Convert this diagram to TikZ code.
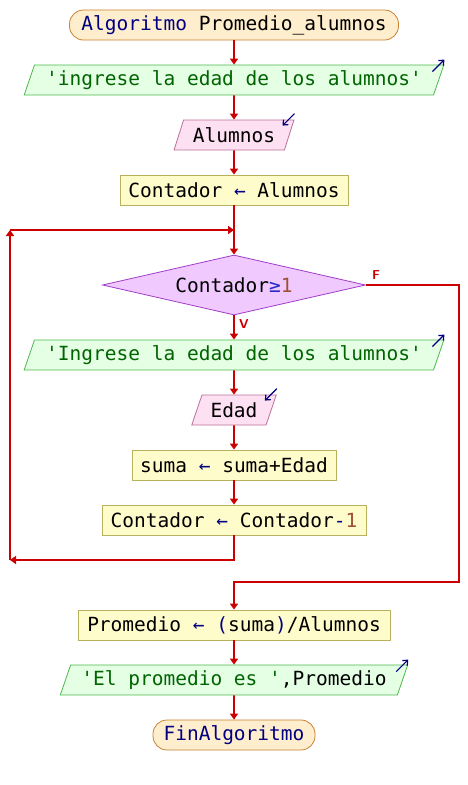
\documentclass[tikz,border=0pt]{standalone}
\usepackage{fontspec}
\setmonofont{DejaVu Sans Mono}
\usetikzlibrary{shapes,arrows.meta}

\definecolor{kwblue}{RGB}{0,0,128}
\definecolor{strgreen}{RGB}{0,100,0}
\definecolor{numbrown}{RGB}{160,80,50}
\definecolor{opblue}{RGB}{40,40,200}
\definecolor{flowred}{RGB}{204,0,0}
\definecolor{condfill}{RGB}{240,202,255}
\definecolor{conddraw}{RGB}{160,60,200}
\definecolor{termfill}{RGB}{255,238,205}
\definecolor{termdraw}{RGB}{200,130,50}

\begin{document}
\begin{tikzpicture}[x=1pt, y=-1pt, node distance=55pt, font=\ttfamily\fontsize{19.5}{21}\selectfont]
        % Styles
        \tikzstyle{terminal} = [rectangle, draw=termdraw, fill=termfill, rounded corners=14pt, minimum height=30pt, inner xsep=3pt, inner ysep=2pt, line width=0.8pt]
        \tikzstyle{outbox} = [trapezium, trapezium left angle=67, trapezium right angle=113, trapezium stretches=true, draw=green!60!black!70, fill=green!10, minimum height=30pt, inner xsep=2pt, inner ysep=2pt, line width=0.8pt]
        \tikzstyle{inbox} = [trapezium, trapezium left angle=67, trapezium right angle=113, trapezium stretches=true, draw=magenta!60!black!70, fill=magenta!12, minimum height=30pt, inner xsep=2pt, inner ysep=2pt, line width=0.8pt]
        \tikzstyle{block} = [rectangle, draw=yellow!60!black!80, fill=yellow!20, minimum height=30pt, inner xsep=3pt, inner ysep=2pt, line width=0.8pt]
        \tikzstyle{decision} = [diamond, draw=conddraw, fill=condfill, aspect=4, inner sep=0pt, minimum width=263pt, minimum height=60pt, line width=0.8pt]
        \tikzstyle{line} = [draw=flowred, line width=1.6pt, -{Triangle[length=6pt,width=8pt]}]
        \tikzstyle{io} = [draw=kwblue, line width=1.2pt, -{Straight Barb[length=4pt,width=7pt]}]
        \tikzstyle{tag} = [text=flowred, font=\sffamily\bfseries\fontsize{13}{14}\selectfont]

        % Nodes
        \node [terminal, minimum width=329pt] (start) at (234,25) {\textcolor{kwblue}{Algoritmo} Promedio\_alumnos};
        \node [outbox, below of=start, minimum width=420pt] (out1) {\textcolor{strgreen}{'ingrese la edad de los alumnos'}};
        \node [inbox, below of=out1, minimum width=120pt] (alumnos) {Alumnos};
        \node [block, below of=alumnos, minimum width=228pt] (cont) {Contador \textcolor{kwblue}{←} Alumnos};
        \node [decision, below of=cont, node distance=95pt] (cond) {Contador\textcolor{opblue}{≥}\textcolor{numbrown}{1}};
        \node [outbox, below of=cond, node distance=70pt, minimum width=420pt] (out2) {\textcolor{strgreen}{'Ingrese la edad de los alumnos'}};
        \node [inbox, below of=out2, minimum width=85pt] (edad) {Edad};
        \node [block, below of=edad, minimum width=204pt] (suma) {suma \textcolor{kwblue}{←} suma+Edad};
        \node [block, below of=suma, minimum width=264pt] (resta) {Contador \textcolor{kwblue}{←} Contador\textcolor{kwblue}{-}\textcolor{numbrown}{1}};
        \node [block, below of=resta, node distance=105pt, minimum width=312pt] (prom) {Promedio \textcolor{kwblue}{←} \textcolor{kwblue}{(}suma\textcolor{kwblue}{)}/Alumnos};
        \node [outbox, below of=prom, minimum width=348pt] (out3) {\textcolor{strgreen}{'El promedio es '},Promedio};
        \node [terminal, below of=out3, minimum width=162pt] (fin) {\textcolor{kwblue}{FinAlgoritmo}};

        \coordinate (loopin) at (234,230);
        \coordinate (loopout) at (234,560);
        \coordinate (backlow) at (10,560);
        \coordinate (backup) at (10,230);
        \coordinate (fcorner) at (459,582);
        \coordinate (fjoin) at (234,582);

        % Edges
        \path [line] (start) -- (out1);
        \path [line] (out1) -- (alumnos);
        \path [line] (alumnos) -- (cont);
        \path [line] (cont) -- (cond);
        \path [line] (cond) -- (out2);
        \path [line] (out2) -- (edad);
        \path [line] (edad) -- (suma);
        \path [line] (suma) -- (resta);
        \path [line] (resta) -- (loopout) -- (backlow);
        \path [line] (backlow) -- (backup);
        \path [line] (backup) -- (loopin);
        \path [line] (cond.east) -| (fcorner) -- (fjoin) -- (prom);
        \path [line] (prom) -- (out3);
        \path [line] (out3) -- (fin);

        % Labels
        \node [tag] (flabel) at (376,275) {F};
        \node [tag] (vlabel) at (244,324) {V};
        \draw [io] ([shift={(-12,7)}]out1.top right corner) -- ([shift={(0,-5)}]out1.top right corner);
        \draw [io] ([shift={(-12,7)}]out2.top right corner) -- ([shift={(0,-5)}]out2.top right corner);
        \draw [io] ([shift={(-12,7)}]out3.top right corner) -- ([shift={(0,-5)}]out3.top right corner);
        \draw [io] ([shift={(0,-6)}]alumnos.top right corner) -- ([shift={(-12,6)}]alumnos.top right corner);
        \draw [io] ([shift={(0,-6)}]edad.top right corner) -- ([shift={(-12,6)}]edad.top right corner);

        \useasboundingbox (0,0) rectangle (468,785);
    \end{tikzpicture}
\end{document}
